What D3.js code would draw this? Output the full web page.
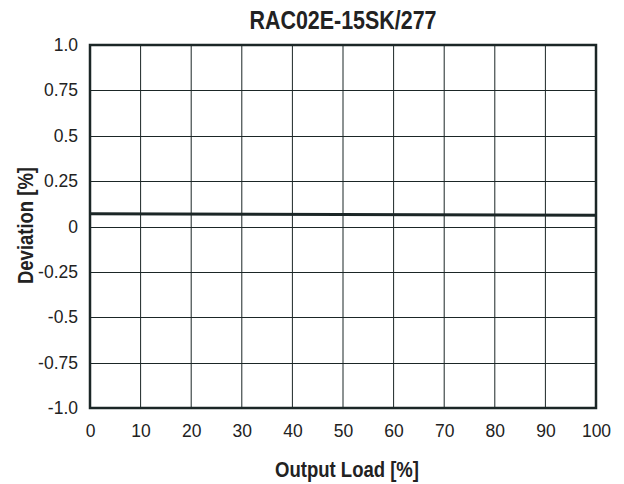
<!DOCTYPE html>
<html>
<head>
<meta charset="utf-8">
<script src="https://cdn.jsdelivr.net/npm/d3@7"></script>
<style>
  body { margin: 0; background: #fff; }
  text { fill: #222; }
  .tick text { font-family: "Liberation Sans Narrow", "Liberation Sans", sans-serif; font-size: 17.5px; }
  .ttl { font-family: "Liberation Sans Narrow", "Liberation Sans", sans-serif; font-weight: bold; }
</style>
</head>
<body>
<div id="chart"></div>
<script>
// data
var loadPct = [0, 100];
var deviation = [0.07, 0.062];

var xTicks = [0, 10, 20, 30, 40, 50, 60, 70, 80, 90, 100];
var yTicks = [-1, -0.75, -0.5, -0.25, 0, 0.25, 0.5, 0.75, 1];
var yTickLabels = ["-1.0", "-0.75", "-0.5", "-0.25", "0", "0.25", "0.5", "0.75", "1.0"];

var W = 624, H = 484;
var mLeft = 90, mRight = 596, mTop = 45, mBottom = 408;
var ink = "#1b2626";

var svg = d3.select("#chart").append("svg")
    .attr("width", W)
    .attr("height", H);

var x = d3.scaleLinear().domain([0, 100]).range([mLeft, mRight]);
var y = d3.scaleLinear().domain([-1, 1]).range([mBottom, mTop]);

// grid
svg.append("g")
  .selectAll("line")
  .data(xTicks.slice(1, -1))
  .enter().append("line")
    .attr("x1", function(d) { return x(d); })
    .attr("x2", function(d) { return x(d); })
    .attr("y1", mTop)
    .attr("y2", mBottom)
    .attr("stroke", ink)
    .attr("stroke-width", 1);

svg.append("g")
  .selectAll("line")
  .data(yTicks.slice(1, -1))
  .enter().append("line")
    .attr("x1", mLeft)
    .attr("x2", mRight)
    .attr("y1", function(d) { return Math.round(y(d)) + 0.5; })
    .attr("y2", function(d) { return Math.round(y(d)) + 0.5; })
    .attr("stroke", ink)
    .attr("stroke-width", 1);

// axes (labels only)
var xAxis = d3.axisBottom(x).tickValues(xTicks).tickSize(0).tickPadding(17)
    .tickFormat(d3.format("d"));
svg.append("g")
    .attr("transform", "translate(0," + mBottom + ")")
    .call(xAxis)
    .call(function(g) { g.select(".domain").remove(); });

var yAxis = d3.axisLeft(y).tickValues(yTicks).tickSize(0).tickPadding(12)
    .tickFormat(function(d, i) { return yTickLabels[i]; });
svg.append("g")
    .attr("transform", "translate(" + mLeft + ",0)")
    .call(yAxis)
    .call(function(g) { g.select(".domain").remove(); });

svg.selectAll(".tick text").attr("fill", "#222");

// data line
var line = d3.line()
    .x(function(d, i) { return x(loadPct[i]); })
    .y(function(d) { return y(d); });

svg.append("path")
    .datum(deviation)
    .attr("d", line)
    .attr("fill", "none")
    .attr("stroke", ink)
    .attr("stroke-width", 3);

// frame
svg.append("rect")
    .attr("x", mLeft)
    .attr("y", mTop)
    .attr("width", mRight - mLeft)
    .attr("height", mBottom - mTop)
    .attr("fill", "none")
    .attr("stroke", ink)
    .attr("stroke-width", 2.5);

// titles (squeezed to mimic the condensed face)
svg.append("text")
    .attr("class", "ttl")
    .attr("x", (mLeft + mRight) / 2)
    .attr("y", 29)
    .attr("text-anchor", "middle")
    .attr("textLength", 187)
    .attr("lengthAdjust", "spacingAndGlyphs")
    .style("font-size", "25px")
    .text("RAC02E-15SK/277");

svg.append("text")
    .attr("class", "ttl")
    .attr("x", 347)
    .attr("y", 477)
    .attr("text-anchor", "middle")
    .attr("textLength", 144)
    .attr("lengthAdjust", "spacingAndGlyphs")
    .style("font-size", "22px")
    .text("Output Load [%]");

svg.append("text")
    .attr("class", "ttl")
    .attr("transform", "translate(32.5,225.5) rotate(-90)")
    .attr("text-anchor", "middle")
    .attr("textLength", 117)
    .attr("lengthAdjust", "spacingAndGlyphs")
    .style("font-size", "22px")
    .text("Deviation [%]");
</script>
</body>
</html>
